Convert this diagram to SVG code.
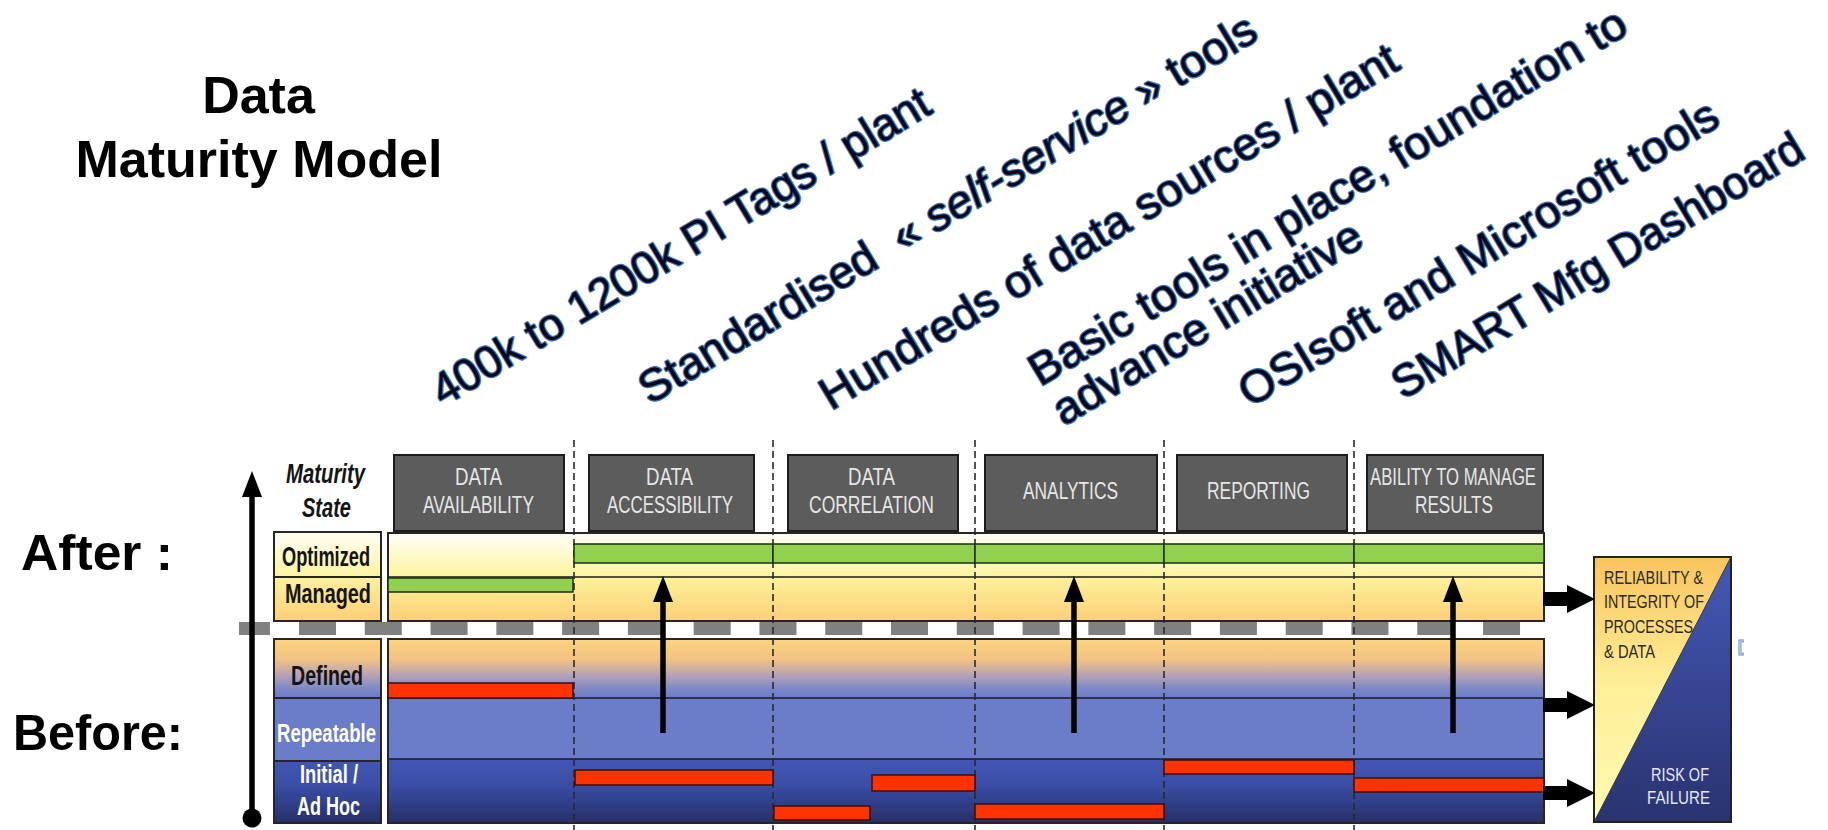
<svg xmlns="http://www.w3.org/2000/svg" width="1828" height="830" viewBox="0 0 1828 830">
  <defs>
    <!-- band fills -->
    <linearGradient id="gOpt" x1="0" y1="0" x2="0" y2="1">
      <stop offset="0" stop-color="#fffef6"/>
      <stop offset="0.35" stop-color="#fffbd9"/>
      <stop offset="1" stop-color="#fcf39c"/>
    </linearGradient>
    <linearGradient id="gMan" x1="0" y1="0" x2="0" y2="1">
      <stop offset="0" stop-color="#fff29a"/>
      <stop offset="1" stop-color="#fbcf78"/>
    </linearGradient>
    <linearGradient id="gDef" x1="0" y1="0" x2="0" y2="1">
      <stop offset="0" stop-color="#fcd47e"/>
      <stop offset="0.35" stop-color="#f1c284"/>
      <stop offset="0.62" stop-color="#b5a1b6"/>
      <stop offset="0.85" stop-color="#7a88c7"/>
      <stop offset="1" stop-color="#6b7cc9"/>
    </linearGradient>
    <linearGradient id="gIni" x1="0" y1="0" x2="0" y2="1">
      <stop offset="0" stop-color="#4157b3"/>
      <stop offset="0.4" stop-color="#3a4ea6"/>
      <stop offset="1" stop-color="#252e66"/>
    </linearGradient>
    <linearGradient id="gRelia" x1="0" y1="0" x2="0" y2="1">
      <stop offset="0" stop-color="#f9c45e"/>
      <stop offset="0.5" stop-color="#fff09a"/>
      <stop offset="1" stop-color="#fffab0"/>
    </linearGradient>
    <linearGradient id="gRisk" x1="0" y1="0" x2="0" y2="1">
      <stop offset="0" stop-color="#4459b6"/>
      <stop offset="1" stop-color="#29336f"/>
    </linearGradient>

    <!-- arrowhead for the upward arrows -->
    <marker id="upHead" markerUnits="userSpaceOnUse" markerWidth="26" markerHeight="20"
            viewBox="0 0 26 20" refX="0" refY="10" orient="auto">
      <path d="M0,0 L26,10 L0,20 Z" fill="#000"/>
    </marker>

    <!-- thick block arrow pointing right, origin at shaft start -->
    <path id="blockArrow" d="M0,-7 L24,-7 L24,-14 L52,0 L24,14 L24,7 L0,7 Z"/>

    <clipPath id="clipStray"><rect x="1736" y="630" width="8" height="30"/></clipPath>
  </defs>

  <style>
    .title { font-family: "Liberation Sans", Arial, sans-serif; font-weight: bold; font-size: 52px; fill: #000; }
    .side { font-family: "Liberation Sans", Arial, sans-serif; font-weight: bold; font-size: 50px; fill: #000; }
    .note { font-family: "Liberation Sans", Arial, sans-serif; font-size: 45px;
            fill: #080a1c; stroke: #3f74ba; stroke-width: 2.4; paint-order: stroke; stroke-linejoin: round; }
    .hdrBox { fill: #5c5c5c; stroke: #1c1c1c; stroke-width: 2; }
    .hdr { font-family: "Liberation Sans", Arial, sans-serif; font-size: 23px; fill: #e6e6e6; }
    .lbl { font-family: "Liberation Sans", Arial, sans-serif; font-weight: bold; font-size: 28px; fill: #141414; }
    .lblW { font-family: "Liberation Sans", Arial, sans-serif; font-weight: bold; font-size: 25px; fill: #ffffff; }
    .cell { stroke: #262626; stroke-width: 2; }
    .sep { stroke: #1a1a1a; stroke-width: 1.5; }
    .colLine { stroke: #2a2a2a; stroke-width: 1.6; stroke-dasharray: 7 4; }
    .green { fill: #92d050; stroke: #1c2e12; stroke-width: 1.5; }
    .red { fill: #ff3300; stroke: #3a1208; stroke-width: 1.5; }
    .up { stroke: #000; stroke-width: 5.5; fill: none; marker-end: url(#upHead); }
    .boxTxt { font-family: "Liberation Sans", Arial, sans-serif; font-size: 19px; fill: #2a2a2a; }
    .boxTxtW { font-family: "Liberation Sans", Arial, sans-serif; font-size: 19px; fill: #e4e6f0; }
  </style>

  <rect x="0" y="0" width="1828" height="830" fill="#ffffff"/>

  <!-- heading -->
  <g id="title">
    <text class="title" x="258.5" y="113" text-anchor="middle">Data</text>
    <text class="title" x="259" y="177" text-anchor="middle">Maturity Model</text>
  </g>

  <g id="after-label"><text class="side" x="21" y="570" textLength="152" lengthAdjust="spacingAndGlyphs">After :</text></g>
  <g id="before-label"><text class="side" x="13" y="750" textLength="170" lengthAdjust="spacingAndGlyphs">Before:</text></g>

  <!-- slanted notes above the columns -->
  <g id="note-tags">
    <text class="note" transform="translate(443,407) rotate(-31)" textLength="573" lengthAdjust="spacingAndGlyphs">400k to 1200k PI Tags / plant</text>
  </g>
  <g id="note-self-service">
    <text class="note" transform="translate(650,405) rotate(-31)" textLength="712" lengthAdjust="spacingAndGlyphs">Standardised&#160; « <tspan font-style="italic">self-service</tspan> » tools</text>
  </g>
  <g id="note-sources">
    <text class="note" transform="translate(831,411) rotate(-31)" textLength="666" lengthAdjust="spacingAndGlyphs">Hundreds of data sources / plant</text>
  </g>
  <g id="note-basic-tools" transform="translate(1040,387) rotate(-31)">
    <text class="note" x="0" y="0" textLength="689" lengthAdjust="spacingAndGlyphs">Basic tools in place, foundation to</text>
    <text class="note" x="0" y="46" textLength="353" lengthAdjust="spacingAndGlyphs">advance initiative</text>
  </g>
  <g id="note-osisoft">
    <text class="note" transform="translate(1250,408) rotate(-31)" textLength="551" lengthAdjust="spacingAndGlyphs">OSIsoft and Microsoft tools</text>
  </g>
  <g id="note-dashboard">
    <text class="note" transform="translate(1403,400) rotate(-31)" textLength="472" lengthAdjust="spacingAndGlyphs">SMART Mfg Dashboard</text>
  </g>

  <!-- maturity state column -->
  <g id="maturity-heading">
    <text class="lbl" x="286" y="483" font-style="italic" textLength="79" lengthAdjust="spacingAndGlyphs">Maturity</text>
    <text class="lbl" x="302" y="517" font-style="italic" textLength="49" lengthAdjust="spacingAndGlyphs">State</text>
  </g>

  <g id="state-optimized">
    <rect class="cell" x="274" y="532" width="107" height="45" fill="url(#gOpt)"/>
    <text class="lbl" x="282" y="566" textLength="88" lengthAdjust="spacingAndGlyphs">Optimized</text>
  </g>
  <g id="state-managed">
    <rect class="cell" x="274" y="577" width="107" height="44" fill="url(#gMan)"/>
    <text class="lbl" x="285" y="603" textLength="86" lengthAdjust="spacingAndGlyphs">Managed</text>
  </g>
  <g id="state-defined">
    <rect class="cell" x="274" y="639" width="107" height="59" fill="url(#gDef)"/>
    <text class="lbl" x="291" y="685" textLength="72" lengthAdjust="spacingAndGlyphs">Defined</text>
  </g>
  <g id="state-repeatable">
    <rect class="cell" x="274" y="698" width="107" height="63" fill="#6b7cc9"/>
    <text class="lblW" x="277" y="742" textLength="99" lengthAdjust="spacingAndGlyphs">Repeatable</text>
  </g>
  <g id="state-initial">
    <rect class="cell" x="274" y="761" width="107" height="62" fill="url(#gIni)"/>
    <text class="lblW" x="300" y="783" font-size="24" textLength="58" lengthAdjust="spacingAndGlyphs">Initial /</text>
    <text class="lblW" x="297" y="815" font-size="24" textLength="63" lengthAdjust="spacingAndGlyphs">Ad Hoc</text>
  </g>

  <!-- chart bands -->
  <g id="chart-bands">
    <rect x="388" y="533" width="1156" height="44" fill="url(#gOpt)"/>
    <rect x="388" y="577" width="1156" height="44" fill="url(#gMan)"/>
    <rect x="388" y="639" width="1156" height="59" fill="url(#gDef)"/>
    <rect x="388" y="698" width="1156" height="61" fill="#6b7cc9"/>
    <rect x="388" y="759" width="1156" height="64" fill="url(#gIni)"/>
    <line class="sep" x1="388" y1="577" x2="1544" y2="577"/>
    <line class="sep" x1="388" y1="698" x2="1544" y2="698"/>
    <line class="sep" x1="388" y1="759" x2="1544" y2="759"/>
    <rect x="388" y="533" width="1156" height="88" fill="none" stroke="#262626" stroke-width="2"/>
    <rect x="388" y="639" width="1156" height="184" fill="none" stroke="#262626" stroke-width="2"/>
  </g>

  <!-- before / after divider -->
  <g id="divider" fill="#808080">
    <rect x="239" y="622" width="31" height="13"/>
    <line x1="299" y1="628.5" x2="1522" y2="628.5" stroke="#808080" stroke-width="13" stroke-dasharray="37 28.78"/>
  </g>

  <!-- column separators -->
  <g id="column-lines">
    <line class="colLine" x1="574" y1="440" x2="574" y2="830"/>
    <line class="colLine" x1="773" y1="440" x2="773" y2="830"/>
    <line class="colLine" x1="975" y1="440" x2="975" y2="830"/>
    <line class="colLine" x1="1164" y1="440" x2="1164" y2="830"/>
    <line class="colLine" x1="1354" y1="440" x2="1354" y2="830"/>
  </g>

  <!-- column headers -->
  <g id="hdr-availability">
    <rect class="hdrBox" x="394" y="455" width="170" height="76"/>
    <text class="hdr" x="455" y="485" textLength="47" lengthAdjust="spacingAndGlyphs">DATA</text>
    <text class="hdr" x="423" y="513" textLength="111" lengthAdjust="spacingAndGlyphs">AVAILABILITY</text>
  </g>
  <g id="hdr-accessibility">
    <rect class="hdrBox" x="589" y="455" width="165" height="76"/>
    <text class="hdr" x="646" y="485" textLength="47" lengthAdjust="spacingAndGlyphs">DATA</text>
    <text class="hdr" x="607" y="513" textLength="126" lengthAdjust="spacingAndGlyphs">ACCESSIBILITY</text>
  </g>
  <g id="hdr-correlation">
    <rect class="hdrBox" x="788" y="455" width="170" height="76"/>
    <text class="hdr" x="848" y="485" textLength="47" lengthAdjust="spacingAndGlyphs">DATA</text>
    <text class="hdr" x="809" y="513" textLength="125" lengthAdjust="spacingAndGlyphs">CORRELATION</text>
  </g>
  <g id="hdr-analytics">
    <rect class="hdrBox" x="985" y="455" width="172" height="76"/>
    <text class="hdr" x="1023" y="499" textLength="95" lengthAdjust="spacingAndGlyphs">ANALYTICS</text>
  </g>
  <g id="hdr-reporting">
    <rect class="hdrBox" x="1177" y="455" width="170" height="76"/>
    <text class="hdr" x="1207" y="499" textLength="103" lengthAdjust="spacingAndGlyphs">REPORTING</text>
  </g>
  <g id="hdr-results">
    <rect class="hdrBox" x="1367" y="455" width="176" height="76"/>
    <text class="hdr" x="1370" y="485" textLength="166" lengthAdjust="spacingAndGlyphs">ABILITY TO MANAGE</text>
    <text class="hdr" x="1415" y="513" textLength="78" lengthAdjust="spacingAndGlyphs">RESULTS</text>
  </g>

  <!-- target state (after) -->
  <g id="after-bars">
    <rect class="green" x="388" y="578" width="185" height="14"/>
    <rect class="green" x="574" y="544" width="199" height="19"/>
    <rect class="green" x="773" y="544" width="202" height="19"/>
    <rect class="green" x="975" y="544" width="189" height="19"/>
    <rect class="green" x="1164" y="544" width="190" height="19"/>
    <rect class="green" x="1354" y="544" width="190" height="19"/>
  </g>

  <!-- current state (before) -->
  <g id="before-bars">
    <rect class="red" x="388" y="683" width="185" height="15"/>
    <rect class="red" x="575" y="770" width="198" height="15"/>
    <rect class="red" x="774" y="806" width="96" height="14"/>
    <rect class="red" x="872" y="775" width="103" height="16"/>
    <rect class="red" x="975" y="804" width="189" height="15"/>
    <rect class="red" x="1164" y="760" width="190" height="14"/>
    <rect class="red" x="1354" y="778" width="190" height="14"/>
  </g>

  <!-- outcome box -->
  <g id="outcome">
    <polygon points="1594,557 1731,557 1594,822" fill="url(#gRelia)"/>
    <polygon points="1731,557 1731,822 1594,822" fill="url(#gRisk)"/>
    <line x1="1731" y1="557" x2="1594" y2="822" stroke="#3a3a30" stroke-width="1"/>
    <rect x="1594" y="557" width="137" height="265" fill="none" stroke="#222" stroke-width="2"/>
    <text class="boxTxt" x="1604" y="584" textLength="99" lengthAdjust="spacingAndGlyphs">RELIABILITY &amp;</text>
    <text class="boxTxt" x="1604" y="608" textLength="100" lengthAdjust="spacingAndGlyphs">INTEGRITY OF</text>
    <text class="boxTxt" x="1604" y="633" textLength="89" lengthAdjust="spacingAndGlyphs">PROCESSES</text>
    <text class="boxTxt" x="1604" y="658" textLength="51" lengthAdjust="spacingAndGlyphs">&amp; DATA</text>
    <text class="boxTxtW" x="1651" y="781" textLength="58" lengthAdjust="spacingAndGlyphs">RISK OF</text>
    <text class="boxTxtW" x="1647" y="804" textLength="63" lengthAdjust="spacingAndGlyphs">FAILURE</text>
  </g>

  <!-- stray glyph at the right edge -->
  <g id="stray" clip-path="url(#clipStray)">
    <text x="1737" y="655" font-family="'Liberation Sans', Arial, sans-serif" font-size="22" fill="#d6ebf8" stroke="#7497bf" stroke-width="1">D</text>
  </g>

  <!-- arrows -->
  <g id="connectors">
    <line class="up" x1="252" y1="818" x2="252" y2="497"/>
    <circle cx="252" cy="818" r="9.5" fill="#000"/>
    <line class="up" x1="663" y1="733" x2="663" y2="602"/>
    <line class="up" x1="1074" y1="733" x2="1074" y2="602"/>
    <line class="up" x1="1453" y1="733" x2="1453" y2="602"/>
    <use href="#blockArrow" transform="translate(1543,599)" fill="#000"/>
    <use href="#blockArrow" transform="translate(1543,705)" fill="#000"/>
    <use href="#blockArrow" transform="translate(1543,793)" fill="#000"/>
  </g>
</svg>
